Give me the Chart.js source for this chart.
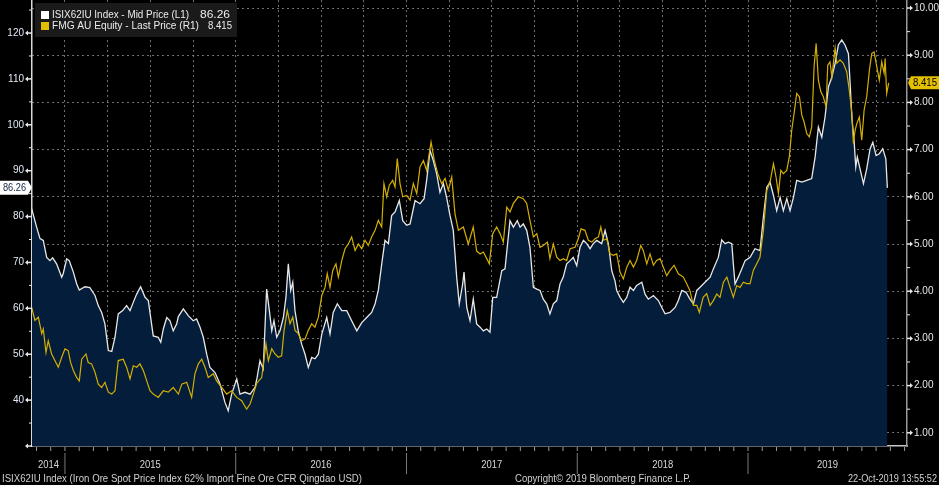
<!DOCTYPE html>
<html>
<head>
<meta charset="utf-8">
<script src="https://cdn.jsdelivr.net/npm/chart.js@4.4.1/dist/chart.umd.min.js"></script>
<style>
  html, body { margin: 0; padding: 0; background: #000; }
  #wrap { width: 939px; height: 485px; }
</style>
</head>
<body>
<div id="wrap"><canvas id="myChart" width="939" height="485"></canvas></div>
<script>
// dates are decimal years
var oreDates = [
  2014.805, 2014.834, 2014.854, 2014.873, 2014.893, 2014.912, 2014.928, 2014.951, 2014.981, 2014.990,
  2015.010, 2015.025, 2015.049, 2015.069, 2015.084, 2015.117, 2015.146, 2015.176, 2015.195, 2015.215,
  2015.234, 2015.254, 2015.274, 2015.293, 2015.312, 2015.338, 2015.361, 2015.381, 2015.400, 2015.420,
  2015.443, 2015.469, 2015.488, 2015.517, 2015.546, 2015.561, 2015.576, 2015.596, 2015.615, 2015.634,
  2015.654, 2015.664, 2015.693, 2015.722, 2015.751, 2015.771, 2015.791, 2015.810, 2015.830, 2015.849,
  2015.879, 2015.908, 2015.937, 2015.956, 2015.976, 2016.006, 2016.025, 2016.054, 2016.084, 2016.113,
  2016.125, 2016.142, 2016.161, 2016.181, 2016.197, 2016.211, 2016.224, 2016.240, 2016.259, 2016.279,
  2016.294, 2016.308, 2016.322, 2016.334, 2016.347, 2016.366, 2016.386, 2016.406, 2016.425, 2016.445,
  2016.464, 2016.484, 2016.504, 2016.533, 2016.552, 2016.571, 2016.595, 2016.621, 2016.650, 2016.679,
  2016.709, 2016.738, 2016.767, 2016.796, 2016.816, 2016.835, 2016.855, 2016.874, 2016.894, 2016.913,
  2016.933, 2016.958, 2016.978, 2017.001, 2017.021, 2017.050, 2017.079, 2017.103, 2017.118, 2017.138,
  2017.157, 2017.177, 2017.196, 2017.216, 2017.235, 2017.255, 2017.274, 2017.294, 2017.309, 2017.329,
  2017.337, 2017.353, 2017.372, 2017.391, 2017.411, 2017.431, 2017.450, 2017.470, 2017.489, 2017.505,
  2017.528, 2017.558, 2017.577, 2017.591, 2017.606, 2017.626, 2017.649, 2017.665, 2017.684, 2017.704,
  2017.723, 2017.743, 2017.763, 2017.782, 2017.801, 2017.821, 2017.840, 2017.860, 2017.880, 2017.899,
  2017.918, 2017.938, 2017.958, 2017.977, 2017.997, 2018.016, 2018.036, 2018.056, 2018.075, 2018.094,
  2018.114, 2018.143, 2018.163, 2018.182, 2018.202, 2018.221, 2018.231, 2018.251, 2018.270, 2018.290,
  2018.309, 2018.329, 2018.348, 2018.378, 2018.397, 2018.416, 2018.446, 2018.475, 2018.495, 2018.514,
  2018.543, 2018.573, 2018.592, 2018.612, 2018.637, 2018.660, 2018.680, 2018.700, 2018.719, 2018.748,
  2018.778, 2018.797, 2018.826, 2018.846, 2018.866, 2018.885, 2018.905, 2018.914, 2018.924, 2018.943,
  2018.963, 2018.983, 2019.012, 2019.041, 2019.070, 2019.090, 2019.110, 2019.129, 2019.149, 2019.168,
  2019.188, 2019.207, 2019.227, 2019.246, 2019.266, 2019.285, 2019.315, 2019.344, 2019.373, 2019.393,
  2019.412, 2019.432, 2019.451, 2019.471, 2019.491, 2019.510, 2019.529, 2019.549, 2019.568, 2019.588,
  2019.598, 2019.608, 2019.621, 2019.631, 2019.640, 2019.656, 2019.676, 2019.695, 2019.715, 2019.731,
  2019.750, 2019.769, 2019.789, 2019.807, 2019.816
];
var oreValues = [
  81.7, 77.7, 75.2, 74.8, 71.1, 70.4, 71.0, 69.7, 66.8, 67.6,
  70.8, 70.4, 67.9, 65.3, 64.0, 64.7, 64.5, 62.8, 60.6, 59.1,
  56.6, 50.8, 50.6, 53.7, 58.8, 59.5, 60.6, 59.5, 61.3, 63.1,
  64.7, 62.4, 61.7, 54.0, 53.7, 52.6, 55.5, 58.0, 57.3, 55.1,
  56.6, 58.2, 59.9, 58.4, 57.3, 57.7, 55.9, 53.7, 50.0, 47.1,
  46.0, 43.5, 39.5, 37.7, 41.3, 44.6, 41.3, 41.7, 41.3, 42.8,
  44.9, 48.6, 46.8, 64.2, 59.5, 55.1, 57.3, 53.7, 55.1, 58.0,
  62.4, 69.7, 63.9, 65.7, 59.5, 55.1, 52.2, 50.0, 47.1, 49.3,
  49.0, 50.0, 54.4, 58.0, 54.4, 59.1, 61.0, 59.5, 59.5, 57.3,
  55.1, 56.9, 58.0, 59.1, 61.0, 63.9, 69.7, 74.8, 74.1, 80.2,
  81.0, 83.5, 79.1, 78.1, 78.4, 83.5, 82.8, 83.9, 87.9, 94.4,
  92.2, 89.3, 85.3, 87.2, 84.2, 80.2, 77.0, 66.8, 61.0, 65.3,
  67.9, 60.2, 57.3, 62.0, 56.6, 55.9, 55.1, 55.5, 54.8, 62.4,
  62.4, 68.2, 68.6, 73.7, 79.1, 77.7, 79.1, 77.7, 78.4, 77.0,
  73.3, 64.6, 64.2, 63.9, 62.0, 61.0, 58.8, 61.0, 61.7, 65.3,
  66.8, 69.7, 70.4, 71.1, 69.3, 73.3, 74.8, 74.1, 73.0, 74.1,
  74.8, 74.1, 77.0, 74.1, 68.2, 66.0, 63.9, 62.4, 61.3, 62.4,
  64.6, 63.9, 65.0, 65.7, 63.1, 62.0, 62.8, 61.7, 60.2, 58.8,
  59.1, 60.2, 61.7, 63.9, 63.5, 62.0, 61.0, 63.9, 64.6, 65.7,
  66.8, 68.6, 71.1, 74.9, 74.1, 74.4, 74.1, 69.7, 65.3, 66.8,
  68.6, 70.4, 71.1, 73.0, 72.6, 79.9, 86.4, 87.5, 84.6, 81.3,
  84.2, 81.3, 83.9, 81.3, 84.2, 87.9, 87.5, 87.9, 88.3, 93.0,
  99.5, 97.3, 101.7, 108.3, 110.4, 113.4, 117.4, 118.5, 117.4, 115.5,
  109.0, 101.7, 96.6, 90.8, 93.0, 90.4, 87.2, 90.4, 94.8, 96.2,
  93.3, 93.7, 94.8, 92.6, 86.26
];
var fmgDates = [
  2014.805, 2014.824, 2014.844, 2014.864, 2014.873, 2014.889, 2014.902, 2014.922, 2014.941, 2014.961,
  2014.981, 2015.000, 2015.019, 2015.033, 2015.049, 2015.069, 2015.084, 2015.098, 2015.123, 2015.136,
  2015.156, 2015.176, 2015.195, 2015.215, 2015.234, 2015.254, 2015.274, 2015.293, 2015.312, 2015.341,
  2015.361, 2015.381, 2015.400, 2015.420, 2015.439, 2015.459, 2015.479, 2015.498, 2015.517, 2015.546,
  2015.576, 2015.605, 2015.634, 2015.664, 2015.684, 2015.713, 2015.742, 2015.761, 2015.781, 2015.801,
  2015.820, 2015.839, 2015.869, 2015.888, 2015.918, 2015.947, 2015.976, 2016.006, 2016.035, 2016.064,
  2016.084, 2016.103, 2016.123, 2016.152, 2016.177, 2016.191, 2016.211, 2016.230, 2016.249, 2016.269,
  2016.283, 2016.302, 2016.318, 2016.334, 2016.347, 2016.366, 2016.386, 2016.406, 2016.425, 2016.445,
  2016.464, 2016.484, 2016.504, 2016.523, 2016.536, 2016.552, 2016.568, 2016.587, 2016.601, 2016.621,
  2016.640, 2016.659, 2016.679, 2016.699, 2016.718, 2016.738, 2016.757, 2016.776, 2016.796, 2016.816,
  2016.835, 2016.855, 2016.868, 2016.884, 2016.899, 2016.919, 2016.933, 2016.946, 2016.962, 2016.978,
  2017.001, 2017.021, 2017.040, 2017.060, 2017.079, 2017.099, 2017.118, 2017.144, 2017.163, 2017.183,
  2017.206, 2017.226, 2017.245, 2017.265, 2017.284, 2017.304, 2017.333, 2017.362, 2017.391, 2017.411,
  2017.431, 2017.450, 2017.470, 2017.485, 2017.505, 2017.528, 2017.548, 2017.567, 2017.587, 2017.606,
  2017.626, 2017.655, 2017.684, 2017.704, 2017.723, 2017.743, 2017.763, 2017.782, 2017.801, 2017.825,
  2017.840, 2017.860, 2017.880, 2017.899, 2017.918, 2017.938, 2017.958, 2017.987, 2018.006, 2018.022,
  2018.045, 2018.065, 2018.085, 2018.104, 2018.124, 2018.138, 2018.153, 2018.173, 2018.192, 2018.211,
  2018.231, 2018.251, 2018.270, 2018.290, 2018.309, 2018.329, 2018.348, 2018.372, 2018.387, 2018.407,
  2018.426, 2018.446, 2018.465, 2018.485, 2018.504, 2018.524, 2018.543, 2018.567, 2018.592, 2018.621,
  2018.641, 2018.660, 2018.680, 2018.700, 2018.715, 2018.737, 2018.758, 2018.778, 2018.797, 2018.817,
  2018.836, 2018.856, 2018.876, 2018.895, 2018.914, 2018.934, 2018.953, 2018.973, 2018.993, 2019.012,
  2019.031, 2019.051, 2019.070, 2019.090, 2019.110, 2019.129, 2019.149, 2019.164, 2019.178, 2019.192,
  2019.207, 2019.227, 2019.242, 2019.256, 2019.270, 2019.285, 2019.301, 2019.315, 2019.328, 2019.344,
  2019.359, 2019.373, 2019.387, 2019.399, 2019.412, 2019.426, 2019.441, 2019.457, 2019.467, 2019.480,
  2019.491, 2019.510, 2019.520, 2019.539, 2019.558, 2019.578, 2019.593, 2019.608, 2019.617, 2019.627,
  2019.637, 2019.652, 2019.666, 2019.680, 2019.695, 2019.711, 2019.725, 2019.738, 2019.754, 2019.769,
  2019.783, 2019.797, 2019.803, 2019.812, 2019.824
];
var fmgValues = [
  3.66, 3.38, 3.45, 3.10, 3.20, 2.70, 2.95, 2.67, 2.53, 2.39,
  2.60, 2.78, 2.74, 2.49, 2.32, 2.17, 2.10, 2.56, 2.67, 2.49,
  2.46, 2.28, 2.03, 1.96, 2.07, 1.86, 1.82, 1.89, 2.53, 2.56,
  2.39, 2.14, 2.42, 2.39, 2.46, 2.32, 2.10, 1.89, 1.82, 1.75,
  1.89, 1.86, 1.96, 1.82, 2.03, 2.07, 1.75, 2.25, 2.46, 2.56,
  2.39, 2.17, 2.25, 2.10, 1.96, 1.82, 1.89, 1.75, 1.68, 1.50,
  1.61, 1.82, 2.05, 2.17, 2.88, 2.53, 2.78, 2.67, 2.60, 2.63,
  3.17, 3.59, 3.31, 3.45, 3.17, 3.10, 2.95, 2.99, 3.17, 3.31,
  3.24, 3.45, 3.91, 4.08, 4.37, 4.08, 4.44, 4.58, 4.30, 4.65,
  4.90, 5.00, 5.15, 4.86, 5.00, 4.90, 5.08, 4.97, 5.15, 5.29,
  5.50, 5.36, 6.28, 6.00, 6.24, 6.35, 6.21, 6.81, 6.28, 6.00,
  6.03, 5.93, 6.28, 6.07, 6.63, 6.77, 6.56, 7.16, 6.77, 6.49,
  6.28, 6.39, 6.14, 6.42, 5.64, 5.29, 5.36, 5.00, 5.36, 4.85,
  4.79, 4.83, 4.69, 4.58, 5.22, 5.36, 5.22, 5.04, 5.78, 5.68,
  5.86, 6.00, 5.96, 5.86, 5.50, 5.15, 5.22, 4.93, 4.97, 5.04,
  4.69, 5.00, 4.72, 4.65, 4.69, 4.65, 4.90, 4.93, 5.11, 5.32,
  5.29, 5.08, 5.04, 5.11, 5.15, 5.36, 5.08, 5.11, 4.79, 4.76,
  4.79, 4.40, 4.26, 4.51, 4.65, 4.51, 4.65, 4.97, 4.86, 4.58,
  4.79, 4.55, 4.65, 4.69, 4.51, 4.33, 4.44, 4.55, 4.37, 4.30,
  4.16, 4.01, 3.70, 3.70, 3.55, 3.87, 3.95, 3.70, 3.80, 3.94,
  3.87, 4.19, 4.30, 4.08, 3.87, 4.12, 4.08, 4.19, 4.16, 4.16,
  4.44, 4.58, 4.72, 5.29, 6.14, 6.31, 6.70, 6.42, 6.07, 6.56,
  6.49, 6.56, 6.85, 7.41, 7.77, 8.19, 8.12, 7.73, 7.59, 7.34,
  7.27, 7.48, 8.76, 9.25, 8.47, 8.23, 8.12, 7.91, 8.79, 8.86,
  8.54, 9.15, 8.83, 8.90, 8.83, 8.65, 8.26, 7.77, 7.13, 7.41,
  7.55, 7.69, 7.20, 7.84, 8.12, 8.69, 9.04, 9.07, 8.76, 8.47,
  8.86, 8.62, 8.93, 8.19, 8.415
];

var oreName = 'ISIX62IU Index - Mid Price (L1)';
var fmgName = 'FMG AU Equity - Last Price (R1)';
var years = [2014, 2015, 2016, 2017, 2018, 2019];
var leftTicks = [40, 50, 60, 70, 80, 90, 100, 110, 120];
var rightTicks = [1, 2, 3, 4, 5, 6, 7, 8, 9, 10];
var footLeft = 'ISIX62IU Index (Iron Ore Spot Price Index 62% Import Fine Ore CFR Qingdao USD)';
var footMid = 'Copyright\u00A9 2019 Bloomberg Finance L.P.';
var footRight = '22-Oct-2019 13:55:52';

var FONT = "'Liberation Sans', Arial, sans-serif";
var YELLOW = '#d4af00';
var NAVY = '#041d3b';

var orePoints = oreDates.map(function(d, i) { return {x: d, y: oreValues[i]}; });
var fmgPoints = fmgDates.map(function(d, i) { return {x: d, y: fmgValues[i]}; });

// draws text squeezed/stretched to a given width
function fitText(ctx, text, x, y, w, align, size, color) {
    ctx.save();
    ctx.font = size + 'px ' + FONT;
    var m = ctx.measureText(text).width;
    var sx = w ? w / m : 1;
    var left = x;
    if (align === 'right') left = x - m * sx;
    if (align === 'center') left = x - m * sx / 2;
    ctx.fillStyle = color;
    ctx.textBaseline = 'middle';
    ctx.textAlign = 'left';
    ctx.translate(left, y);
    ctx.scale(sx, 1);
    ctx.fillText(text, 0, 0);
    ctx.restore();
}

var bbgPlugin = {
    id: 'bbg',
    afterDraw: function(chart) {
        var ctx = chart.ctx;
        var area = chart.chartArea;
        var xs = chart.scales.x, yl = chart.scales.y, yr = chart.scales.y1;
        ctx.save();

        // left axis tick marks
        ctx.fillStyle = '#e6e6e6';
        for (var v = 30; v <= 125; v += 5) {
            var py = yl.getPixelForValue(v);
            if (py < area.top || py > area.bottom) continue;
            if (v % 10 === 0) {
                ctx.fillRect(area.left - 5, py - 0.75, 5, 1.5);
                ctx.beginPath();
                ctx.moveTo(area.left - 7, py);
                ctx.lineTo(area.left - 4, py - 2.5);
                ctx.lineTo(area.left - 4, py + 2.5);
                ctx.closePath();
                ctx.fill();
            } else {
                ctx.fillRect(area.left - 3, py - 0.5, 3, 1);
            }
        }
        // right axis tick marks
        for (var r = 1; r <= 10; r += 0.5) {
            var ry = yr.getPixelForValue(r);
            if (r % 1 === 0) {
                ctx.fillRect(area.right, ry - 0.75, 4, 1.5);
                ctx.beginPath();
                ctx.moveTo(area.right + 6, ry);
                ctx.lineTo(area.right + 3, ry - 2.5);
                ctx.lineTo(area.right + 3, ry + 2.5);
                ctx.closePath();
                ctx.fill();
            } else {
                ctx.fillRect(area.right, ry - 0.5, 3, 1);
            }
        }

        // monthly ticks under the time axis
        ctx.fillStyle = '#9a9a9a';
        for (var yr0 = 2014; yr0 <= 2019; yr0++) {
            for (var mo = 0; mo < 12; mo++) {
                var t = yr0 + mo / 12;
                if (t < xs.min || t > xs.max) continue;
                var px = xs.getPixelForValue(t);
                ctx.fillRect(px - 0.5, area.bottom + 1, 1, 4);
            }
        }

        // year separators and labels
        ctx.fillStyle = '#7a7a7a';
        years.forEach(function(y) {
            if (y > xs.min && y < xs.max) {
                ctx.fillRect(xs.getPixelForValue(y) - 0.5, area.bottom + 7, 1, 21);
            }
            var a = Math.max(y, xs.min), b = Math.min(y + 1, xs.max);
            var cx = (xs.getPixelForValue(a) + xs.getPixelForValue(b)) / 2;
            fitText(ctx, String(y), cx, 465, 21, 'center', 11, '#d8d8d8');
        });

        // footer
        fitText(ctx, footLeft, 2, 479, 360, 'left', 10, '#d0d0d0');
        fitText(ctx, footMid, 515, 479, 176, 'left', 10, '#d0d0d0');
        fitText(ctx, footRight, 937, 479, 89, 'right', 10, '#d0d0d0');

        // legend box
        var oreLast = oreValues[oreValues.length - 1];
        var fmgLast = fmgValues[fmgValues.length - 1];
        ctx.fillStyle = '#1a1a1a';
        ctx.fillRect(35, 3, 202, 34);
        ctx.fillStyle = '#ffffff';
        ctx.fillRect(41, 11, 8, 8);
        ctx.fillStyle = '#e2bd00';
        ctx.fillRect(41, 22, 8, 8);
        fitText(ctx, oreName, 52, 15, 137, 'left', 11, '#ececec');
        fitText(ctx, oreLast.toFixed(2), 230, 15, 30, 'right', 11, '#ececec');
        fitText(ctx, fmgName, 52, 26, 147, 'left', 11, '#ececec');
        fitText(ctx, fmgLast.toFixed(3), 232, 26, 24, 'right', 11, '#ececec');

        // last value tags
        var ty = yl.getPixelForValue(oreLast);
        ctx.fillStyle = '#ffffff';
        ctx.beginPath();
        ctx.moveTo(0, ty - 7);
        ctx.lineTo(28, ty - 7);
        ctx.lineTo(area.left, ty);
        ctx.lineTo(28, ty + 7);
        ctx.lineTo(0, ty + 7);
        ctx.closePath();
        ctx.fill();
        fitText(ctx, oreLast.toFixed(2), 14.5, ty, 23, 'center', 11, '#0d2340');

        var fy = yr.getPixelForValue(fmgLast);
        ctx.fillStyle = '#e5c000';
        ctx.beginPath();
        ctx.moveTo(939, fy - 6.5);
        ctx.lineTo(911, fy - 6.5);
        ctx.lineTo(area.right + 1, fy);
        ctx.lineTo(911, fy + 6.5);
        ctx.lineTo(939, fy + 6.5);
        ctx.closePath();
        ctx.fill();
        fitText(ctx, fmgLast.toFixed(3), 925, fy, 24, 'center', 11, '#000000');

        ctx.restore();
    }
};

var gridDots = 'rgba(150,150,150,0.75)';

var ctx = document.getElementById('myChart');
var myChart = new Chart(ctx, {
    type: 'line',
    data: {
        datasets: [
            {
                label: fmgName,
                data: fmgPoints,
                yAxisID: 'y1',
                borderColor: YELLOW,
                borderWidth: 1.2,
                pointRadius: 0,
                tension: 0,
                fill: false
            },
            {
                label: oreName,
                data: orePoints,
                yAxisID: 'y',
                borderColor: '#e8e8e8',
                borderWidth: 1.3,
                backgroundColor: NAVY,
                pointRadius: 0,
                tension: 0,
                fill: 'start'
            }
        ]
    },
    options: {
        responsive: false,
        animation: false,
        events: [],
        layout: { padding: 0 },
        plugins: {
            legend: { display: false },
            tooltip: { enabled: false },
            filler: { drawTime: 'beforeDatasetsDraw' }
        },
        scales: {
            x: {
                type: 'linear',
                min: 2014.807,
                max: 2019.931,
                afterBuildTicks: function(s) {
                    var t = [];
                    for (var q = 2015; q <= 2019.75; q += 0.25) t.push({value: q});
                    s.ticks = t;
                },
                ticks: { display: false },
                grid: { color: gridDots, drawTicks: false, lineWidth: 1 },
                border: { display: true, color: '#c8c8c8', width: 1.5, dash: [2, 3] },
                afterFit: function(s) { s.height = 39; s.paddingLeft = 0; s.paddingRight = 0; }
            },
            y: {
                position: 'left',
                min: 30,
                max: 127.2,
                afterBuildTicks: function(s) { s.ticks = leftTicks.map(function(v) { return {value: v}; }); },
                ticks: { color: '#dfe8f5', font: { family: FONT, size: 10 }, padding: 8 },
                grid: { drawOnChartArea: false, drawTicks: false },
                border: { color: '#d8d8d8', width: 1.5 },
                afterFit: function(s) { s.width = 32; s.paddingTop = 0; s.paddingBottom = 0; }
            },
            y1: {
                position: 'right',
                min: 0.72,
                max: 10.17,
                afterBuildTicks: function(s) { s.ticks = rightTicks.map(function(v) { return {value: v}; }); },
                ticks: {
                    color: '#e8e8e8',
                    font: { family: FONT, size: 10 },
                    padding: 7,
                    callback: function(v) { return Number(v).toFixed(2); }
                },
                grid: { color: gridDots, drawTicks: false, lineWidth: 1 },
                border: { color: '#9a9a9a', width: 1.5, dash: [2, 3] },
                afterFit: function(s) { s.width = 32; s.paddingTop = 0; s.paddingBottom = 0; }
            }
        }
    },
    plugins: [bbgPlugin]
});
</script>
</body>
</html>
